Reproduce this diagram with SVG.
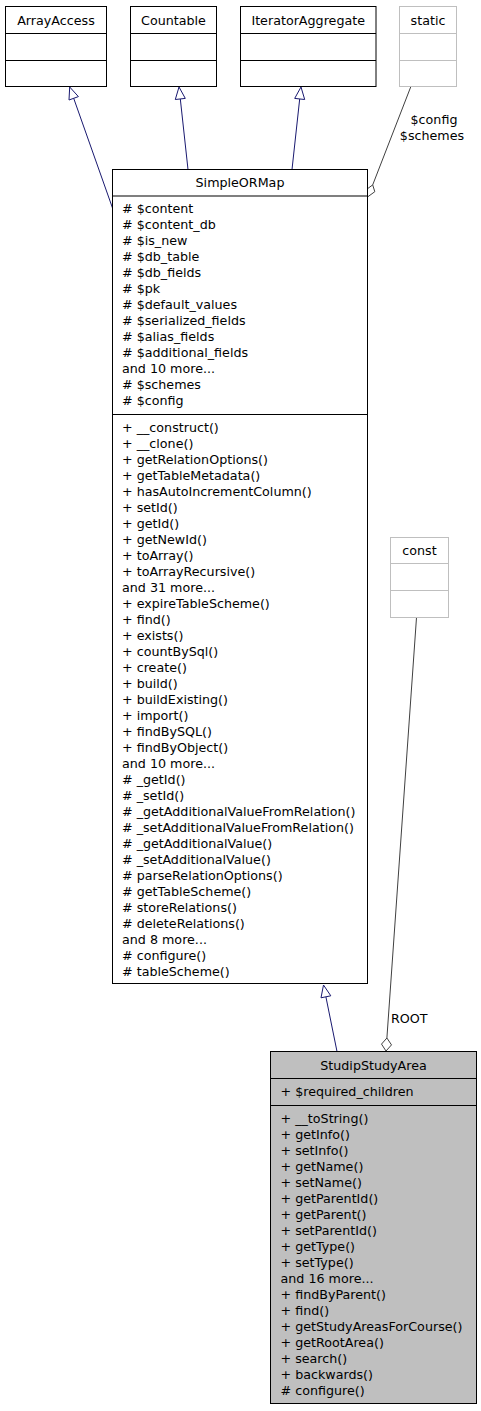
<svg xmlns="http://www.w3.org/2000/svg" width="481" height="1411" viewBox="0 0 481 1411">
<style>
text{font-family:"DejaVu Sans","Bitstream Vera Sans",sans-serif;font-size:12.7px;fill:#000}
.c{text-anchor:middle}
.box{fill:#fff;stroke:#000;stroke-width:1}
.gbox{fill:#fff;stroke:#bfbfbf;stroke-width:1}
.sel{fill:#bfbfbf;stroke:#000;stroke-width:1}
.sep{stroke:#000;stroke-width:1.2}
.gsep{stroke:#bfbfbf;stroke-width:1}
.inh{stroke:#191970;stroke-width:1;fill:none}
.inhh{stroke:#191970;stroke-width:1;fill:#fff}
.use{stroke:#404040;stroke-width:1;fill:none}
.useh{stroke:#404040;stroke-width:1;fill:#fff}
</style>
<rect width="481" height="1411" fill="#fff"/>
<g id="connectors">
<line class="inh" x1="73.7" y1="98.3" x2="112.5" y2="208"/>
<polygon class="inhh" points="69.7,87 78.4,96.6 69.0,100.0"/>
<line class="inh" x1="180.3" y1="98.9" x2="188" y2="169.5"/>
<polygon class="inhh" points="179,87 185.3,98.4 175.3,99.5"/>
<line class="inh" x1="299.7" y1="98.9" x2="292" y2="169.5"/>
<polygon class="inhh" points="301,87 304.7,99.5 294.7,98.4"/>
<line class="inh" x1="325.9" y1="996.8" x2="337" y2="1051.5"/>
<polygon class="inhh" points="323.5,985 330.8,995.8 321.0,997.8"/>
<line class="use" x1="410.7" y1="87" x2="372.7" y2="184.9"/>
<polygon class="useh" points="367.5,197 365.5,190.2 372.7,184.9 374.8,191.7"/>
<text class="c" x="434" y="124">$config</text>
<text class="c" x="432" y="139.5">$schemes</text>
<line class="use" x1="416.5" y1="617.5" x2="386.9" y2="1038"/>
<polygon class="useh" points="386,1051 381.5,1044.1 386.9,1038 391.5,1044.9"/>
<text x="391" y="1023">ROOT</text>
</g>
<g id="ArrayAccess">
<rect class="box" x="5.5" y="6.5" width="101" height="80"/>
<line class="sep" x1="5.5" y1="33.5" x2="106.5" y2="33.5"/>
<line class="sep" x1="5.5" y1="60.5" x2="106.5" y2="60.5"/>
<text class="c" x="56" y="24.5">ArrayAccess</text>
</g>
<g id="Countable">
<rect class="box" x="130.5" y="6.5" width="86" height="80"/>
<line class="sep" x1="130.5" y1="33.5" x2="216.5" y2="33.5"/>
<line class="sep" x1="130.5" y1="60.5" x2="216.5" y2="60.5"/>
<text class="c" x="173.5" y="24.5">Countable</text>
</g>
<g id="IteratorAggregate">
<rect class="box" x="240.5" y="6.5" width="135.5" height="80"/>
<line class="sep" x1="240.5" y1="33.5" x2="376" y2="33.5"/>
<line class="sep" x1="240.5" y1="60.5" x2="376" y2="60.5"/>
<text class="c" x="308.2" y="24.5">IteratorAggregate</text>
</g>
<g id="static">
<rect class="gbox" x="399.5" y="6.5" width="57" height="80"/>
<line class="gsep" x1="399.5" y1="33.5" x2="456.5" y2="33.5"/>
<line class="gsep" x1="399.5" y1="60.5" x2="456.5" y2="60.5"/>
<text class="c" x="428" y="24.5">static</text>
</g>
<g id="SimpleORMap">
<rect class="box" x="112.5" y="169.5" width="255" height="814"/>
<line class="sep" x1="112.5" y1="196" x2="367.5" y2="196"/>
<line class="sep" x1="112.5" y1="414.5" x2="367.5" y2="414.5"/>
<text class="c" x="240" y="187">SimpleORMap</text>
<text x="122" y="212.5"># $content</text>
<text x="122" y="228.5"># $content_db</text>
<text x="122" y="244.5"># $is_new</text>
<text x="122" y="260.5"># $db_table</text>
<text x="122" y="276.5"># $db_fields</text>
<text x="122" y="292.5"># $pk</text>
<text x="122" y="308.5"># $default_values</text>
<text x="122" y="324.5"># $serialized_fields</text>
<text x="122" y="340.5"># $alias_fields</text>
<text x="122" y="356.5"># $additional_fields</text>
<text x="122" y="372.5">and 10 more...</text>
<text x="122" y="388.5"># $schemes</text>
<text x="122" y="404.5"># $config</text>
<text x="122" y="431.5">+ __construct()</text>
<text x="122" y="447.5">+ __clone()</text>
<text x="122" y="463.5">+ getRelationOptions()</text>
<text x="122" y="479.5">+ getTableMetadata()</text>
<text x="122" y="495.5">+ hasAutoIncrementColumn()</text>
<text x="122" y="511.5">+ setId()</text>
<text x="122" y="527.5">+ getId()</text>
<text x="122" y="543.5">+ getNewId()</text>
<text x="122" y="559.5">+ toArray()</text>
<text x="122" y="575.5">+ toArrayRecursive()</text>
<text x="122" y="591.5">and 31 more...</text>
<text x="122" y="607.5">+ expireTableScheme()</text>
<text x="122" y="623.5">+ find()</text>
<text x="122" y="639.5">+ exists()</text>
<text x="122" y="655.5">+ countBySql()</text>
<text x="122" y="671.5">+ create()</text>
<text x="122" y="687.5">+ build()</text>
<text x="122" y="703.5">+ buildExisting()</text>
<text x="122" y="719.5">+ import()</text>
<text x="122" y="735.5">+ findBySQL()</text>
<text x="122" y="751.5">+ findByObject()</text>
<text x="122" y="767.5">and 10 more...</text>
<text x="122" y="783.5"># _getId()</text>
<text x="122" y="799.5"># _setId()</text>
<text x="122" y="815.5"># _getAdditionalValueFromRelation()</text>
<text x="122" y="831.5"># _setAdditionalValueFromRelation()</text>
<text x="122" y="847.5"># _getAdditionalValue()</text>
<text x="122" y="863.5"># _setAdditionalValue()</text>
<text x="122" y="879.5"># parseRelationOptions()</text>
<text x="122" y="895.5"># getTableScheme()</text>
<text x="122" y="911.5"># storeRelations()</text>
<text x="122" y="927.5"># deleteRelations()</text>
<text x="122" y="943.5">and 8 more...</text>
<text x="122" y="959.5"># configure()</text>
<text x="122" y="975.5"># tableScheme()</text>
</g>
<g id="const">
<rect class="gbox" x="390.5" y="537.5" width="58" height="80"/>
<line class="gsep" x1="390.5" y1="563.5" x2="448.5" y2="563.5"/>
<line class="gsep" x1="390.5" y1="590.5" x2="448.5" y2="590.5"/>
<text class="c" x="419.5" y="555">const</text>
</g>
<g id="StudipStudyArea">
<rect class="sel" x="270.5" y="1051.5" width="206" height="352"/>
<line class="sep" x1="270.5" y1="1078.5" x2="476.5" y2="1078.5"/>
<line class="sep" x1="270.5" y1="1105.5" x2="476.5" y2="1105.5"/>
<text class="c" x="373.5" y="1069.5">StudipStudyArea</text>
<text x="280.5" y="1095.5">+ $required_children</text>
<text x="280.5" y="1122.5">+ __toString()</text>
<text x="280.5" y="1138.5">+ getInfo()</text>
<text x="280.5" y="1154.5">+ setInfo()</text>
<text x="280.5" y="1170.5">+ getName()</text>
<text x="280.5" y="1186.5">+ setName()</text>
<text x="280.5" y="1202.5">+ getParentId()</text>
<text x="280.5" y="1218.5">+ getParent()</text>
<text x="280.5" y="1234.5">+ setParentId()</text>
<text x="280.5" y="1250.5">+ getType()</text>
<text x="280.5" y="1266.5">+ setType()</text>
<text x="280.5" y="1282.5">and 16 more...</text>
<text x="280.5" y="1298.5">+ findByParent()</text>
<text x="280.5" y="1314.5">+ find()</text>
<text x="280.5" y="1330.5">+ getStudyAreasForCourse()</text>
<text x="280.5" y="1346.5">+ getRootArea()</text>
<text x="280.5" y="1362.5">+ search()</text>
<text x="280.5" y="1378.5">+ backwards()</text>
<text x="280.5" y="1394.5"># configure()</text>
</g>
</svg>
